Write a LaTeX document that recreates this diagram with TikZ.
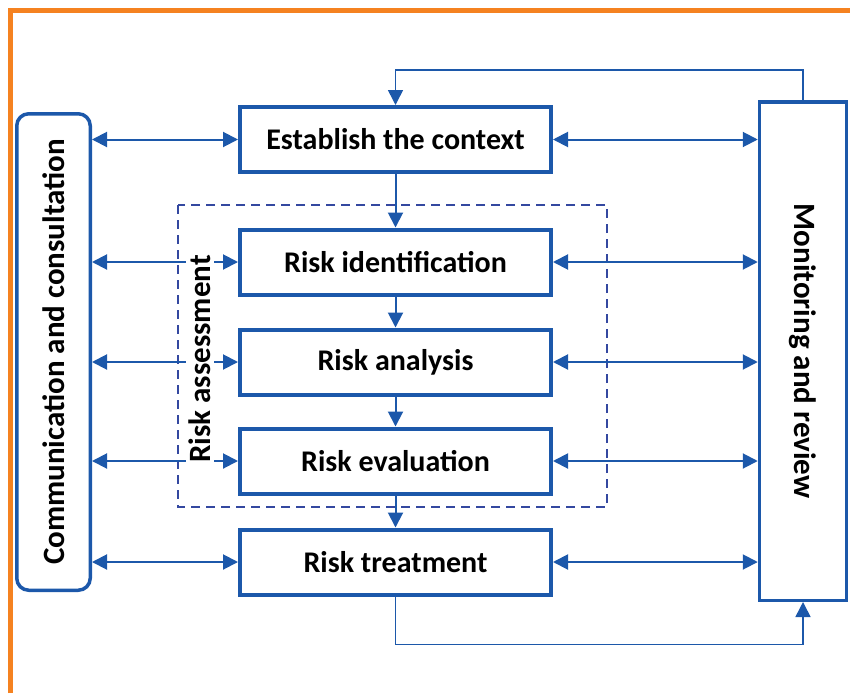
\documentclass[tikz,border=0pt]{standalone}
\usepackage{fontspec}
\setmainfont{Carlito}
\usepackage{graphicx}
\usepackage{xcolor}
\usetikzlibrary{arrows.meta}

\definecolor{riskblue}{RGB}{28,88,170}
\definecolor{dashblue}{RGB}{52,72,160}
\definecolor{frameorange}{RGB}{245,130,32}

\tikzset{
  stepbox/.style={draw=riskblue,line width=4pt,fill=white,minimum width=311pt,minimum height=65pt,
    font=\bfseries\fontsize{30}{34}\selectfont},
  sidebox/.style={draw=riskblue,line width=3.5pt,fill=white,inner sep=0pt,
    font=\bfseries\fontsize{31}{35}\selectfont},
  link/.style={riskblue,line width=2pt},
}

\begin{document}
\begin{tikzpicture}[x=1pt,y=-1pt,>={Triangle[length=15pt,width=15pt]}]
\useasboundingbox (0,0) rectangle (850,693);
\draw[frameorange,line width=5pt] (10.5,693) |- (850,10.5);

  \node[stepbox]   (E) at (395.5,139.5) {Establish the context};
  \node[stepbox]   (I) at (395.5,262)   {Risk identification};
  \node[stepbox]   (A) at (395.5,362)   {Risk analysis};
  \node[stepbox]   (V) at (395.5,461)   {Risk evaluation};
  \node[stepbox]   (T) at (395.5,562)   {Risk treatment};

  \node[sidebox,rounded corners=12pt,minimum width=73.5pt,minimum height=476.5pt]
        (C) at (53.5,352) {\rotatebox{90}{Communication and consultation}};
  \node[sidebox,minimum width=87pt,minimum height=498.5pt]
        (M) at (803,351) {\rotatebox{-90}{Monitoring and review}};

  % risk assessment frame
  \draw[dashblue,line width=2pt,dash pattern=on 9pt off 6pt] (178,205) rectangle (607,507);

  \path[<->,link]
        (C.east |- E) edge (E.west)
        (C.east |- I) edge (I.west)
        (C.east |- A) edge (A.west)
        (C.east |- V) edge (V.west)
        (C.east |- T) edge (T.west)
        (E.east) edge (M.west |- E)
        (I.east) edge (M.west |- I)
        (A.east) edge (M.west |- A)
        (V.east) edge (M.west |- V)
        (T.east) edge (M.west |- T);

  \path[->,link]
        (E) edge (I)
        (I) edge (A)
        (A) edge (V)
        (V) edge (T);

  \draw[->,link,line width=1.6pt] (M.north) -- ++(0,-30) -| (E.north);
  \draw[->,link,line width=1.6pt] (T.south) -- ++(0,48) -| (M.south);

  \node[font=\bfseries\fontsize{31}{35}\selectfont,rotate=90,fill=white,inner sep=3pt]
        (R) at (200,359) {Risk assessment};
\end{tikzpicture}
\end{document}
